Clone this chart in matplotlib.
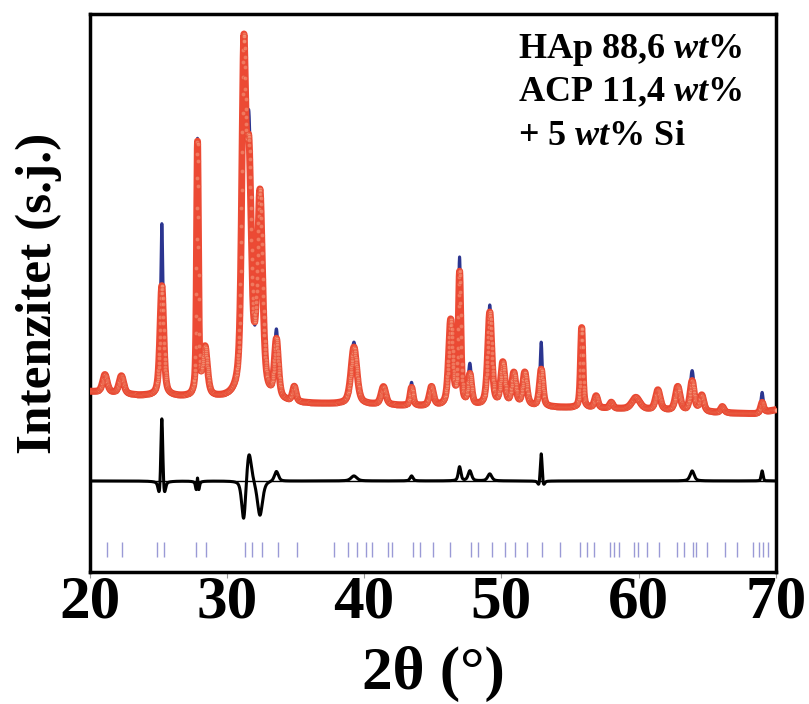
import numpy as np
import matplotlib
matplotlib.use('Agg')
import matplotlib.pyplot as plt

plt.rcParams['font.family'] = 'Liberation Serif'
plt.rcParams['font.weight'] = 'bold'
plt.rcParams['mathtext.fontset'] = 'custom'
plt.rcParams['mathtext.it'] = 'Liberation Serif:italic:bold'
plt.rcParams['mathtext.rm'] = 'Liberation Serif:bold'

# reflections (2theta), heights above background and fwhm
peak_pos = [21.1, 22.3, 25.25, 27.85, 28.4, 31.22, 31.6, 32.4, 33.6, 34.9,
            39.25, 41.4, 43.45, 44.9, 46.3, 46.95, 47.7, 49.15, 50.1, 50.9,
            51.7, 52.9, 55.85, 56.9, 58.0, 59.8, 61.4, 62.85, 63.9, 64.6,
            66.1, 69.0]
h_blue = [18, 18, 172, 255, 48, 280, 250, 165, 68, 15,
          62, 18, 23, 19, 85, 145, 40, 100, 42, 32,
          33, 64, 80, 12, 6, 12, 20, 24, 40, 16,
          6, 20]
h_red = [18, 18, 110, 252, 48, 322, 218, 200, 58, 15,
         57, 18, 18, 19, 85, 131, 30, 93, 42, 32,
         33, 37, 80, 12, 6, 12, 20, 24, 30, 16,
         6, 10]
w_blue = [0.4, 0.4, 0.22, 0.15, 0.4, 0.35, 0.42, 0.45, 0.35, 0.3,
          0.5, 0.4, 0.25, 0.35, 0.35, 0.22, 0.3, 0.35, 0.35, 0.35,
          0.35, 0.2, 0.2, 0.3, 0.3, 0.7, 0.4, 0.4, 0.35, 0.35,
          0.3, 0.2]
w_red = [0.4, 0.4, 0.32, 0.16, 0.4, 0.35, 0.42, 0.45, 0.35, 0.3,
         0.5, 0.4, 0.25, 0.35, 0.35, 0.22, 0.3, 0.35, 0.35, 0.35,
         0.35, 0.3, 0.2, 0.3, 0.3, 0.7, 0.4, 0.4, 0.35, 0.35,
         0.3, 0.25]

# background level read at a few angles
bg_pos = [20, 23.5, 26, 29, 35, 40, 45, 52, 58, 66, 68.5, 70]
bg_int = [180, 176, 175, 173, 168, 167, 165, 165, 163, 159, 158, 162]

# Bragg reflection markers
bragg_pos = [21.24, 22.33, 24.88, 25.39, 27.73, 28.45, 31.30, 31.81, 32.54, 33.70,
             35.09, 37.78, 38.80, 39.46, 40.12, 40.55, 41.72, 42.01, 43.54, 44.05,
             45.00, 46.24, 47.77, 48.28, 49.30, 50.25, 50.98, 51.85, 52.94, 54.26,
             55.71, 56.22, 56.73, 57.90, 58.19, 58.56, 59.65, 59.94, 60.60, 61.47,
             62.78, 63.29, 63.95, 64.17, 64.97, 66.28, 67.16, 68.32, 68.76, 69.05,
             69.42]

diff_offset = 91
labels = ["HAp 88,6 $\\mathit{wt}$%", "ACP 11,4 $\\mathit{wt}$%", "+ 5 $\\mathit{wt}$% Si"]


def pseudo_voigt(x, x0, h, w, eta=0.55):
    d = (2 * (x - x0) / w) ** 2
    return h * (eta / (1 + d) + (1 - eta) * np.exp(-np.log(2) * d))


def pattern(x, heights, widths):
    y = np.interp(x, bg_pos, bg_int).astype(float)
    for x0, h, w in zip(peak_pos, heights, widths):
        y += pseudo_voigt(x, x0, h, w)
    return y


two_theta = np.arange(20.0, 70.0, 0.005)
y_blue = pattern(two_theta, h_blue, w_blue)
y_red = pattern(two_theta, h_red, w_red)
y_diff = y_blue - y_red + diff_offset

fig = plt.figure(figsize=(8.09, 7.04), dpi=100)
ax = fig.add_axes([0.111, 0.1875, 0.848, 0.792])

ax.plot(two_theta, y_blue, color='#2b3590', lw=2.2, zorder=2)
ax.plot(two_theta, y_red, color='#ec4a34', lw=5, solid_capstyle='round', zorder=3)
ax.plot(two_theta[::3], y_red[::3], 'o', ms=3.2, mfc='#f59a7c', mec='#e8452f',
        mew=0.6, alpha=0.6, zorder=3)
ax.axhline(diff_offset, color='black', lw=1, zorder=2)
ax.plot(two_theta, y_diff, color='black', lw=2.2, zorder=4)
ax.vlines(bragg_pos, 15, 30, color='#9a9ad6', lw=1)

ax.set_xlim(20, 70)
ax.set_ylim(0, 557)
ax.set_yticks([])
ax.set_xticks([20, 30, 40, 50, 60, 70])
ax.tick_params(axis='x', direction='out', length=4, width=0.8, color='#999999',
               labelsize=44, pad=-2)
for sp in ax.spines.values():
    sp.set_linewidth(2.5)

ax.set_ylabel('Intenzitet (s.j.)', fontsize=37, fontweight='bold')
ax.yaxis.set_label_coords(-0.04, 0.5)
fig.text(433 / 809, 15 / 704, '2θ (°)', fontsize=44, ha='center', va='baseline')

for i, s in enumerate(labels):
    fig.text(518 / 809, (704 - 58 - 43.5 * i) / 704, s, fontsize=26,
             ha='left', va='baseline')

fig.savefig('out.png', dpi=100)
